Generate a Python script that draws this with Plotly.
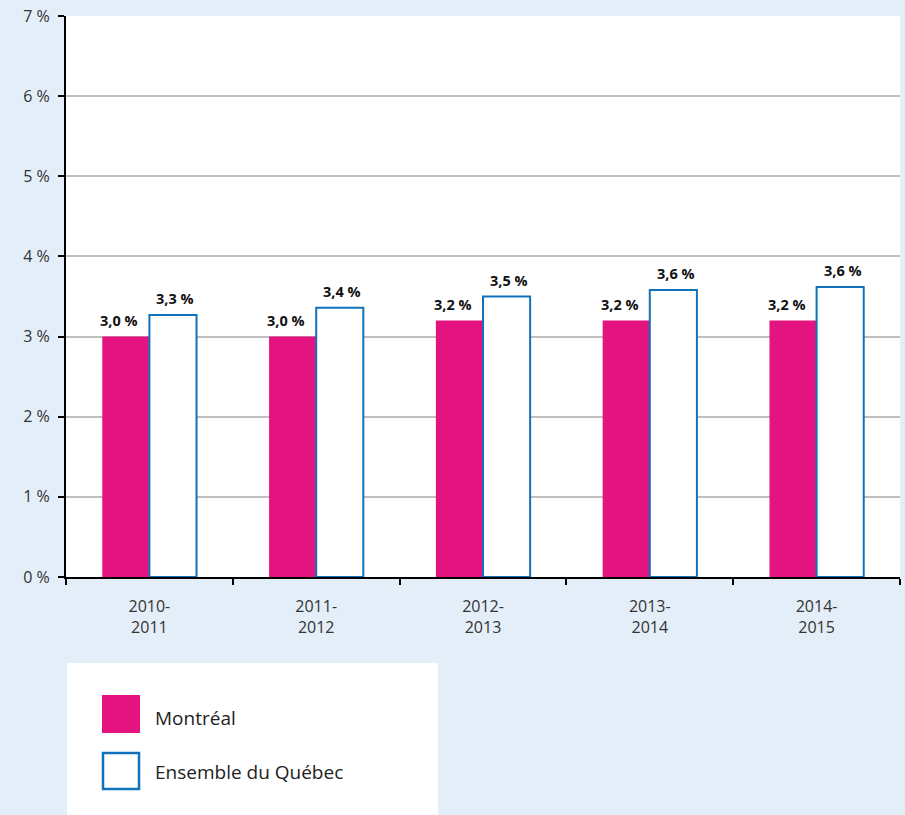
import plotly.graph_objects as go

categories = ["2010-<br>2011", "2011-<br>2012", "2012-<br>2013", "2013-<br>2014", "2014-<br>2015"]
series_names = ["Montréal", "Ensemble du Québec"]
montreal = [3.0, 3.0, 3.2, 3.2, 3.2]
quebec = [3.27, 3.36, 3.5, 3.58, 3.62]
montreal_labels = ["3,0 %", "3,0 %", "3,2 %", "3,2 %", "3,2 %"]
quebec_labels = ["3,3 %", "3,4 %", "3,5 %", "3,6 %", "3,6 %"]
y_ticks = [0, 1, 2, 3, 4, 5, 6, 7]
y_ticktext = [f"{v} %" for v in y_ticks]

PINK = "#e3137f"
BLUE = "#1172bb"
BG = "#e4eef8"
FONT = "Open Sans, Noto Sans, sans-serif"
LABEL_FONT = dict(family=FONT, size=14.5, color="#111111", weight="bold")

W, H = 905, 815
L, R, T, B = 66, 5, 16, 238
PW, PH = W - L - R, H - T - B


def px(x):
    return (x - L) / PW


def py(y):
    return (H - B - y) / PH


fig = go.Figure()
fig.add_trace(go.Bar(
    x=categories, y=montreal, name=series_names[0],
    marker=dict(color=PINK, line=dict(width=0)),
    hoverinfo="skip",
))
fig.add_trace(go.Bar(
    x=categories, y=quebec, name=series_names[1],
    marker=dict(color="white", line=dict(color=BLUE, width=2)),
    hoverinfo="skip",
))

annotations = []
for cat, v, lab in zip(categories, montreal, montreal_labels):
    annotations.append(dict(x=cat, y=v, xref="x", yref="y", text=lab, showarrow=False,
                            xanchor="center", yanchor="bottom", xshift=-30, yshift=5,
                            font=LABEL_FONT))
for cat, v, lab in zip(categories, quebec, quebec_labels):
    annotations.append(dict(x=cat, y=v, xref="x", yref="y", text=lab, showarrow=False,
                            xanchor="center", yanchor="bottom", xshift=26, yshift=5,
                            font=LABEL_FONT))

shapes = [
    dict(type="rect", xref="paper", yref="paper", x0=px(67), x1=px(438), y0=py(663), y1=py(830),
         fillcolor="white", line=dict(width=0), layer="below"),
    dict(type="rect", xref="paper", yref="paper", x0=px(102), x1=px(140), y0=py(695), y1=py(733),
         fillcolor=PINK, line=dict(width=0)),
    dict(type="rect", xref="paper", yref="paper", x0=px(103), x1=px(139), y0=py(753), y1=py(789),
         fillcolor="white", line=dict(color=BLUE, width=2.5)),
]
annotations += [
    dict(xref="paper", yref="paper", x=px(153), y=py(718), text=series_names[0], showarrow=False,
         xanchor="left", yanchor="middle", font=dict(family=FONT, size=19, color="#222222")),
    dict(xref="paper", yref="paper", x=px(153), y=py(772), text=series_names[1], showarrow=False,
         xanchor="left", yanchor="middle", font=dict(family=FONT, size=19, color="#222222")),
]

fig.update_layout(
    width=W, height=H,
    margin=dict(l=L, r=R, t=T, b=B),
    paper_bgcolor=BG, plot_bgcolor="white",
    barmode="group", bargap=0.435, bargroupgap=0,
    showlegend=False,
    shapes=shapes, annotations=annotations,
    font=dict(family=FONT, size=16, color="#333333"),
)
fig.update_xaxes(
    showline=True, linecolor="black", linewidth=2,
    ticks="outside", tickson="boundaries", ticklen=6, tickwidth=2, tickcolor="black",
    tickfont=dict(family=FONT, size=16, color="#333333"),
    ticklabelstandoff=14,
    showgrid=False,
)
fig.update_yaxes(
    range=[0, 7], tickvals=y_ticks, ticktext=y_ticktext,
    showline=True, linecolor="black", linewidth=2,
    ticks="outside", ticklen=6, tickwidth=2, tickcolor="black",
    gridcolor="#bfbfbf", gridwidth=2, zeroline=False,
    tickfont=dict(family=FONT, size=16, color="#333333"),
    ticklabelstandoff=5,
)

fig.write_html(
    "out.html",
    config={"displayModeBar": False},
    post_script="document.body.style.margin='0';document.body.style.background='" + BG + "';",
)
